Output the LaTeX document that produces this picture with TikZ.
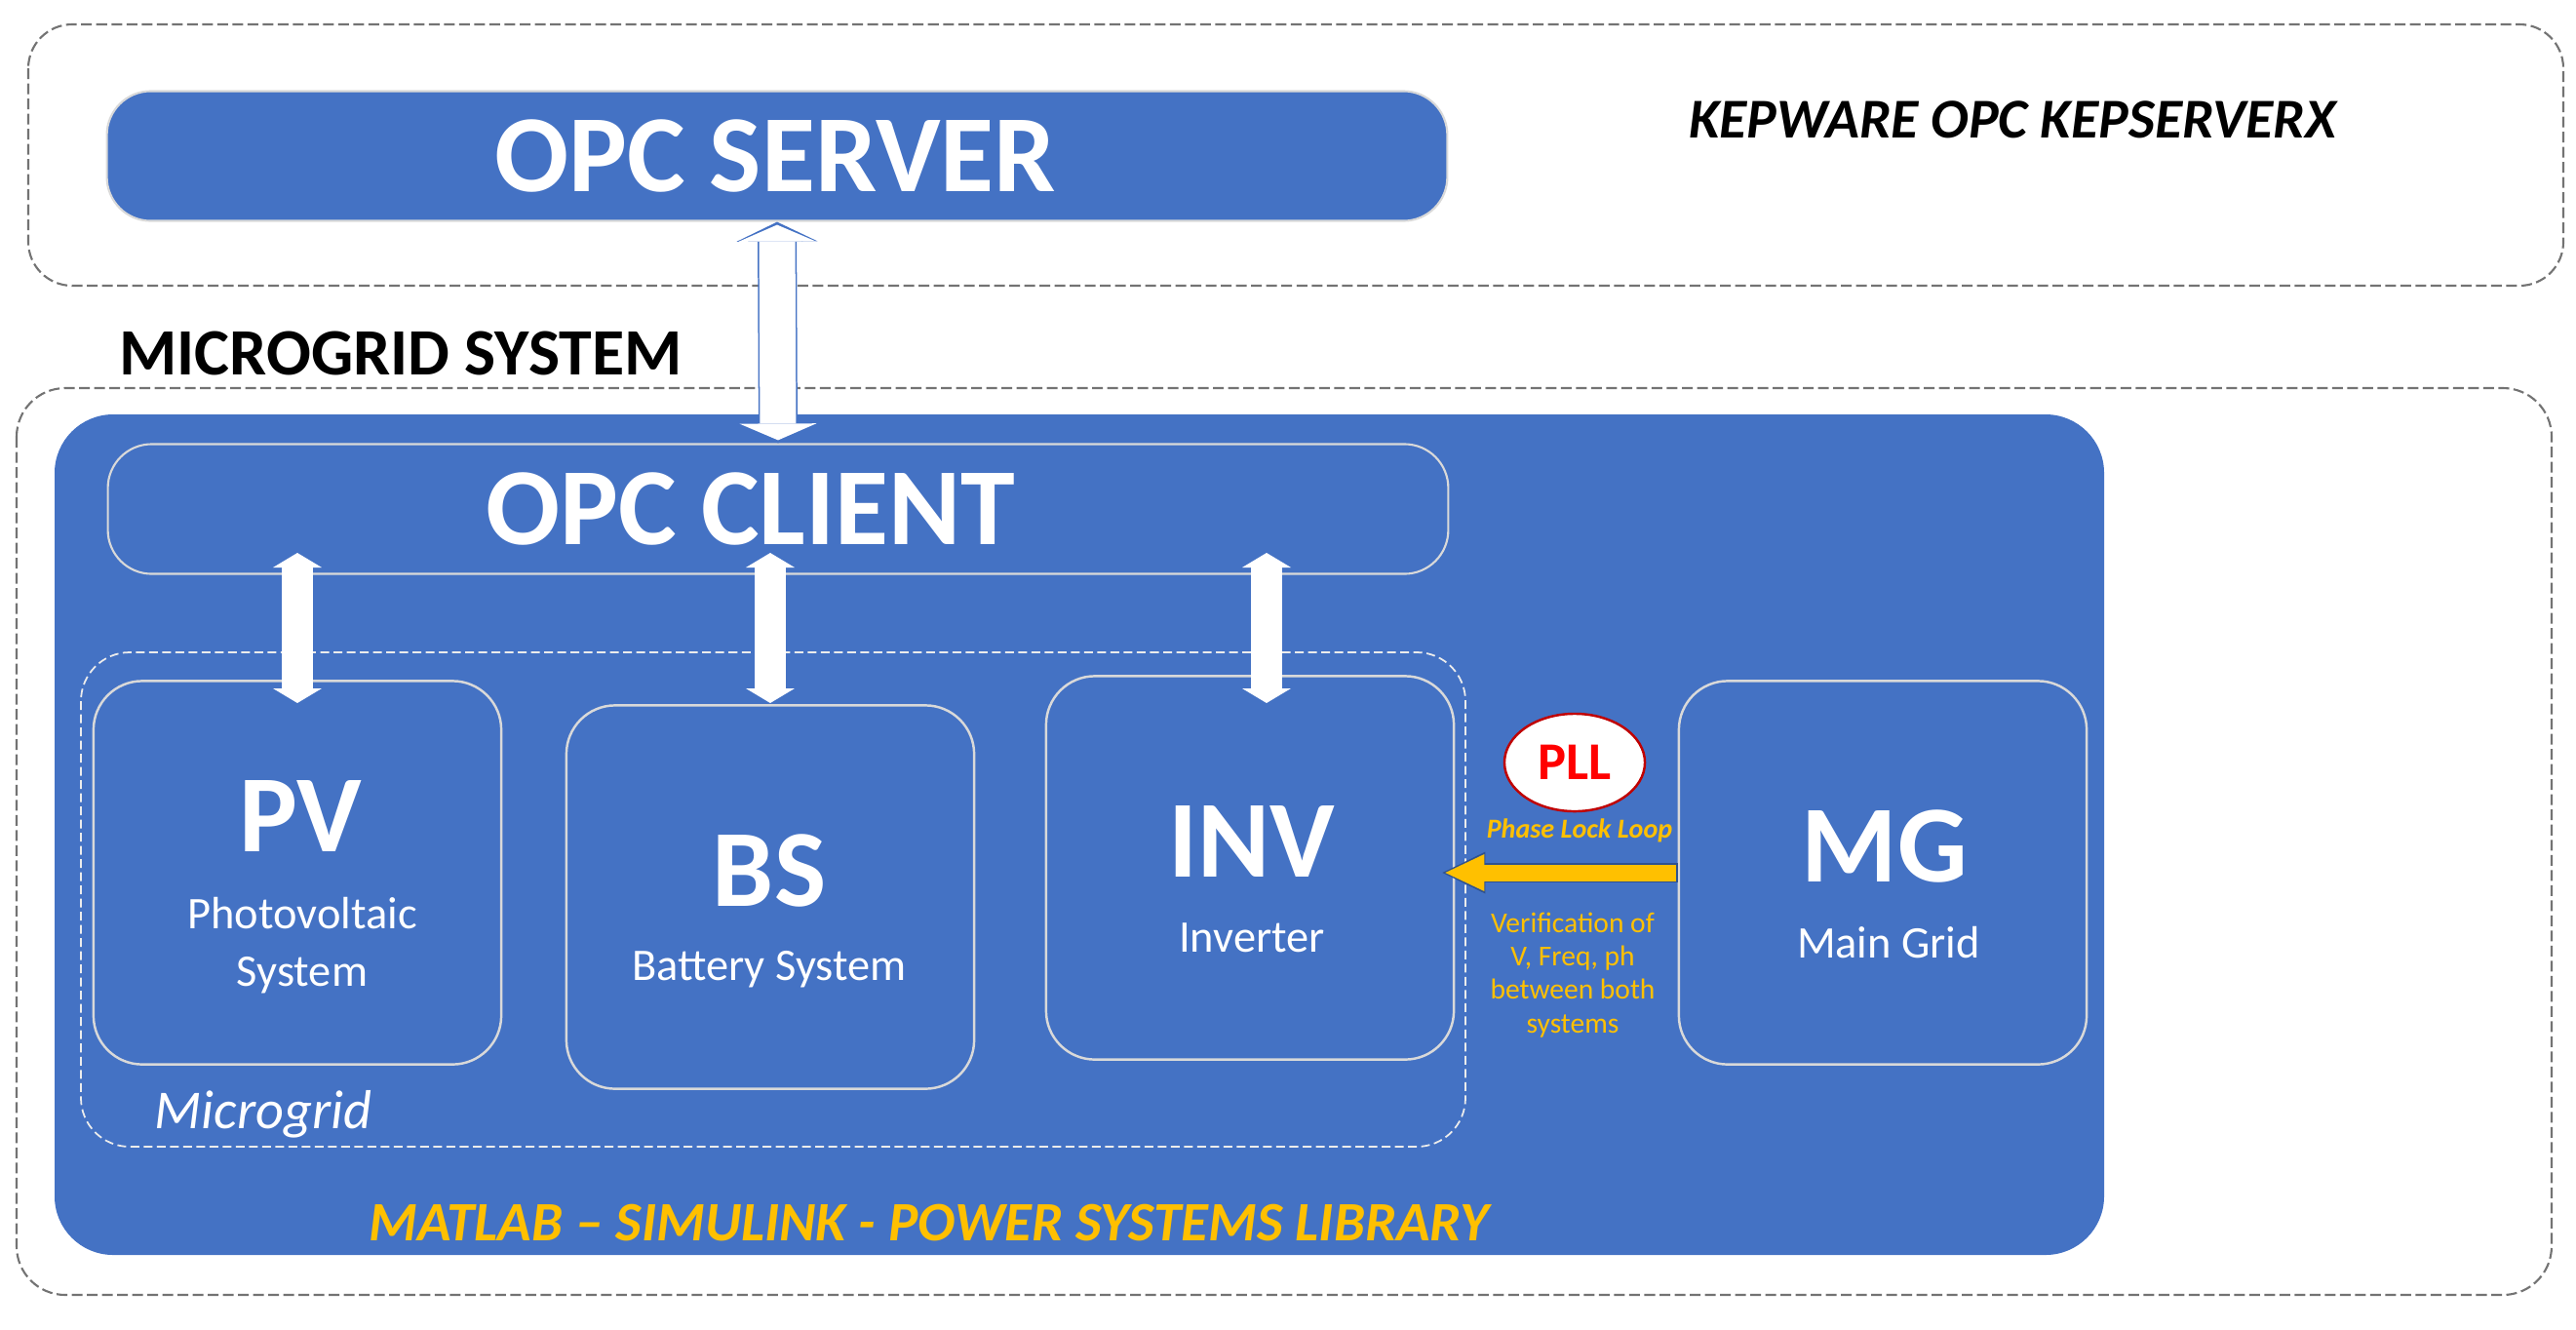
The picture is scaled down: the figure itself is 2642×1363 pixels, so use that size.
\documentclass[tikz,border=0pt]{standalone}
\usepackage{fontspec}
\setmainfont{Carlito}
\usetikzlibrary{arrows.meta,shapes.geometric}
\definecolor{boxblue}{HTML}{4472C4}
\definecolor{rimblue}{HTML}{2F528F}
\definecolor{gold}{HTML}{FFC000}
\definecolor{pllred}{HTML}{FF0000}
\definecolor{pllrim}{HTML}{C00000}
\tikzset{
  frame/.style={draw=gray!90!black, line width=0.6pt, dash pattern=on 1.1mm off 0.45mm, rounded corners=0.45cm},
  bar/.style={rectangle, rounded corners=0.45cm, fill=boxblue, draw=white!70!gray, line width=0.6pt,
    minimum width=13.74cm, minimum height=1.33cm, inner sep=0pt},
  bartext/.style={text=white, inner sep=0pt, font=\bfseries\fontsize{32}{36}\selectfont},
  unit/.style={rectangle, rounded corners=0.5cm, draw=white!70!gray, line width=0.7pt,
    minimum width=4.18cm, minimum height=3.93cm},
  tag/.style={text=white, inner sep=0pt, font=\bfseries\fontsize{32}{34}\selectfont},
  sub/.style={text=white, inner sep=0pt, align=center, font=\fontsize{13.2}{16.8}\selectfont},
  note/.style={text=gold, inner sep=0pt, align=center, font=\fontsize{8.4}{9.7}\selectfont},
  bigrim/.style={boxblue, line width=4mm, {Triangle[length=2mm,width=8.3mm,line width=0pt]}-{Triangle[length=2mm,width=8.3mm,line width=0pt]}},
  bigarrow/.style={white, line width=3.7mm, {Triangle[length=1.7mm,width=7.9mm,line width=0pt]}-{Triangle[length=1.7mm,width=7.9mm,line width=0pt]}},
  link/.style={white, line width=3.2mm, {Triangle[length=1.5mm,width=5mm,line width=0pt]}-{Triangle[length=1.5mm,width=5mm,line width=0pt]}},
  syncrim/.style={rimblue, line width=2mm, -{Triangle[length=4.4mm,width=4.3mm,line width=0pt]}},
  sync/.style={gold, line width=1.7mm, -{Triangle[length=4mm,width=3.8mm,line width=0pt]}}
}
\begin{document}
\begin{tikzpicture}[x=0.01cm, y=-0.01cm]
  \useasboundingbox (0,0) rectangle (2642,1363);

  % outer frames
  \draw[frame] (29,25) rectangle (2629,293);
  \draw[frame, rounded corners=0.5cm] (17,398) rectangle (2617,1328);
  \node[font=\bfseries\itshape\fontsize{16.4}{18}\selectfont] (kep) at (2064,123) {KEPWARE OPC KEPSERVERX};
  \node[font=\bfseries\fontsize{19.3}{22}\selectfont] (mgs) at (411,362) {MICROGRID SYSTEM};

  % simulink area
  \fill[boxblue, rounded corners=0.6cm] (56,425) rectangle (2158,1287);
  \draw[white!85!gray, line width=0.5pt, dash pattern=on 0.9mm off 0.45mm, rounded corners=0.5cm] (83,669) rectangle (1503,1176);

  \node[bar] (server) at (797,160) {};
  \node[bartext] (servert) at (795,160) {OPC SERVER};
  \node[bar] (client) at (798,522) {};
  \node[bartext] (clientt) at (770,522) {OPC CLIENT};

  \node[unit] (pv) at (305,895) {};
  \node[unit] (bs) at (790,920) {};
  \node[unit] (inv) at (1282,890) {};
  \node[unit] (mg) at (1931,895) {};

  \node[tag] (pvt) at (308,837) {PV};
  \node[sub] (pvs) at (310,970) {Photovoltaic\\System};
  \node[tag] (bst) at (789,893) {BS};
  \node[sub] (bss) at (789,994) {Battery System};
  \node[tag] (invt) at (1284,863) {INV};
  \node[sub] (invs) at (1284,962) {Inverter};
  \node[tag] (mgt) at (1933,868) {MG};
  \node[sub] (mgs2) at (1937,967) {Main Grid};

  \node[text=white, font=\itshape\fontsize{16}{18}\selectfont] (mgrid) at (270,1143) {Microgrid};
  \node[text=gold, font=\bfseries\itshape\fontsize{16.2}{18}\selectfont] (lib) at (953,1254) {MATLAB -- SIMULINK - POWER SYSTEMS LIBRARY};

  % phase lock loop
  \node[ellipse, draw=pllrim, line width=0.7pt, fill=white, minimum width=1.44cm, minimum height=1cm, inner sep=0pt,
    text=pllred, font=\bfseries\fontsize{15.5}{17}\selectfont] (pll) at (1615,782) {PLL};
  \node[note, font=\bfseries\itshape\fontsize{8}{9}\selectfont] (pllt) at (1620,852) {Phase Lock Loop};
  \node[note] (check) at (1613,1000) {Verification of\\V, Freq, ph\\between both\\systems};

  % links
  \coordinate (high) at (0,567);
  \coordinate (low) at (0,721);
  \draw[bigrim] (server.south) -- (client.north);
  \draw[bigarrow] ([yshift=-0.3mm]server.south) -- ([yshift=0.3mm]client.north);
  \foreach \n in {pv,bs} \draw[link] (high -| \n) -- (low -| \n);
  \draw[link] ([xshift=0.17cm]high -| inv) -- ([xshift=0.17cm]low -| inv);
  \draw[syncrim] (mg.west) -- ([xshift=-0.13cm]mg.west -| inv.east);
  \draw[sync] ([xshift=-0.2mm]mg.west) -- ([xshift=-0.1cm]mg.west -| inv.east);
\end{tikzpicture}
\end{document}
